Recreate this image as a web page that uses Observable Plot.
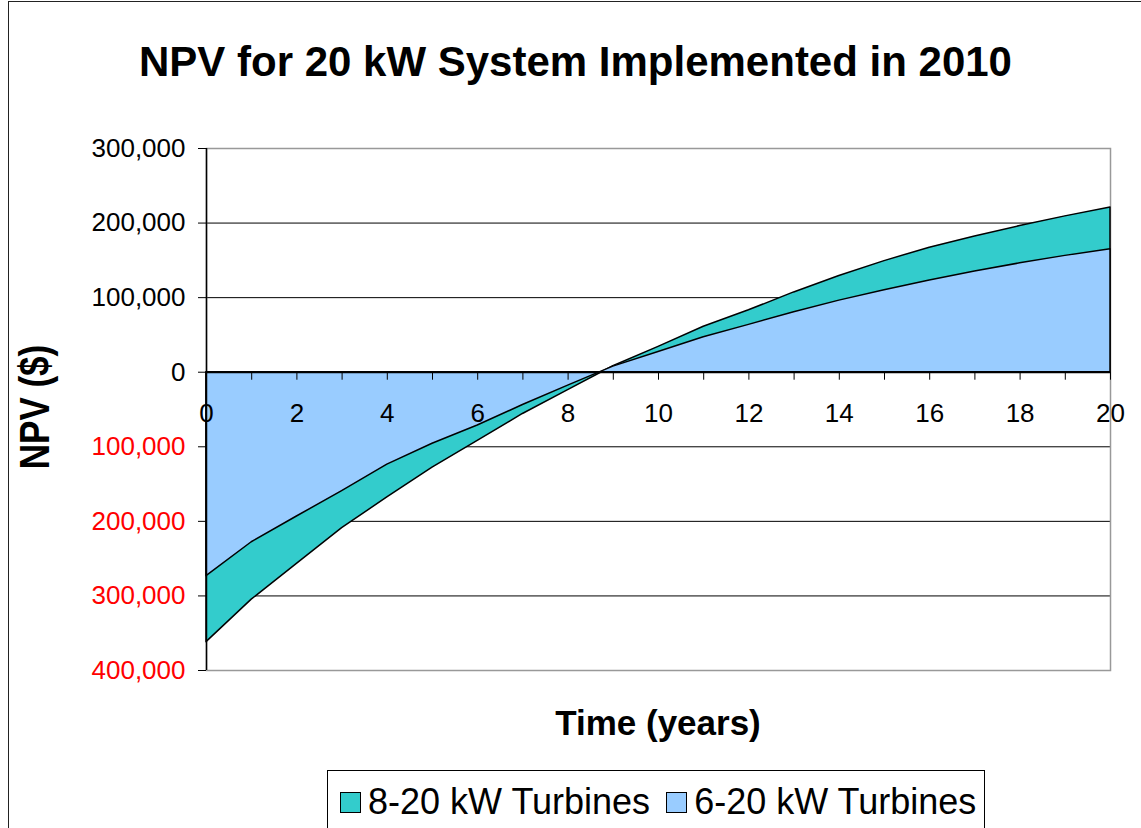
<!DOCTYPE html>
<html>
<head>
<meta charset="utf-8">
<script src="https://cdn.jsdelivr.net/npm/d3@7"></script>
<script src="https://cdn.jsdelivr.net/npm/@observablehq/plot@0.6"></script>
<style>
  html, body { margin: 0; padding: 0; background: #fff; }
  #wrap { position: relative; width: 1141px; height: 828px; overflow: hidden; background: #fff;
          font-family: "Liberation Sans", Arial, sans-serif; color: #000; }
  #chart { position: absolute; left: 0; top: 0; }
  #border { position: absolute; left: 8px; top: 1px; width: 1160px; height: 900px; border: 1px solid #222; box-sizing: border-box; }
  #title { position: absolute; left: 5px; width: 1141px; top: 41px; text-align: center; font-weight: bold; font-size: 42px; line-height: 1; white-space: nowrap; }
  #xtitle { position: absolute; left: 206px; width: 904px; top: 705px; text-align: center; font-weight: bold; font-size: 35px; line-height: 1; white-space: nowrap; }
  #ytitle { position: absolute; left: 34px; top: 407px; font-weight: bold; font-size: 35px; line-height: 1; white-space: nowrap;
            transform: translate(-50%, -50%) rotate(-90deg) scale(1, 1.2); }
  #legend { position: absolute; left: 327px; top: 770px; width: 658px; height: 80px; border: 1px solid #000; box-sizing: border-box;
            display: flex; align-items: flex-start; padding-top: 13px; padding-left: 12px; }
  .item { display: flex; align-items: center; font-size: 36px; line-height: 1; white-space: nowrap; }
  .sw { width: 21px; height: 21px; border: 1.5px solid #000; box-sizing: border-box; margin-right: 7px; }
</style>
</head>
<body>
<div id="wrap">
  <div id="chart"></div>
  <div id="border"></div>
  <div id="title"></div>
  <div id="ytitle"></div>
  <div id="xtitle"></div>
  <div id="legend"></div>
</div>
<script>
// ---- data ----
const titleText = "NPV for 20 kW System Implemented in 2010";
const xTitle = "Time (years)";
const yTitle = "NPV ($)";
const seriesNames = ["8-20 kW Turbines", "6-20 kW Turbines"];
const seriesColors = ["#33CCCC", "#99CCFF"];

const years = [0, 1, 2, 3, 4, 5, 6, 7, 8, 9, 10, 11, 12, 13, 14, 15, 16, 17, 18, 19, 20];
const npv8to20 = [-362000, -305000, -257000, -209000, -168000, -128000, -92000, -56000, -24000, 8000, 34000,
                  61000, 83000, 107000, 129000, 149000, 167000, 182000, 196000, 209000, 221000];
const npv6to20 = [-273500, -228000, -193500, -159500, -124000, -96000, -71500, -44000, -18000, 7500, 27000,
                  47000, 63500, 80500, 96000, 110000, 123000, 135000, 146000, 156000, 165000];

const xTickLabels = [0, 2, 4, 6, 8, 10, 12, 14, 16, 18, 20];
const yTicksPos = [300000, 200000, 100000, 0];
const yTicksNeg = [-100000, -200000, -300000, -400000];
const yGrid = [200000, 100000, -100000, -200000, -300000];

// ---- build tables ----
const data8 = years.map((t, i) => ({year: t, npv: npv8to20[i]}));
const data6 = years.map((t, i) => ({year: t, npv: npv6to20[i]}));
const fmt = d => d3.format(",")(Math.abs(d));

const chart = Plot.plot({
  width: 1141,
  height: 828,
  marginLeft: 206,
  marginRight: 31,
  marginTop: 148,
  marginBottom: 158,
  x: {domain: [0, 20], axis: null},
  y: {domain: [-400000, 300000], axis: null},
  style: {fontFamily: "'Liberation Sans', Arial, sans-serif", fontSize: "26px", background: "transparent", overflow: "visible"},
  marks: [
    Plot.ruleY(yGrid, {stroke: "#000", strokeWidth: 1}),
    Plot.frame({stroke: "#999", strokeWidth: 1.5}),
    Plot.areaY(data8, {x: "year", y1: 0, y2: "npv", fill: seriesColors[0], stroke: "#000", strokeWidth: 1.5}),
    Plot.areaY(data6, {x: "year", y1: 0, y2: "npv", fill: seriesColors[1], stroke: "#000", strokeWidth: 1.5}),
    Plot.ruleX([0], {stroke: "#000", strokeWidth: 1.5}),
    Plot.ruleY([0], {stroke: "#000", strokeWidth: 2}),
    // y tick marks
    Plot.ruleY([...yTicksPos, ...yTicksNeg], {x1: 0, x2: 0, insetLeft: -8, stroke: "#000", strokeWidth: 1}),
    // x tick marks on the zero line
    Plot.ruleX(years, {x: d => d, y1: 0, y2: 0, insetBottom: -8, stroke: "#000", strokeWidth: 1}),
    // y labels
    Plot.text(yTicksPos, {y: d => d, frameAnchor: "left", textAnchor: "end", dx: -21, text: fmt, fill: "#000", fontSize: 26}),
    Plot.text(yTicksNeg, {y: d => d, frameAnchor: "left", textAnchor: "end", dx: -21, text: fmt, fill: "#FF0000", fontSize: 26}),
    // x labels
    Plot.text(xTickLabels, {x: d => d, y: 0, dy: 41, text: d => String(d), fill: "#000", fontSize: 26})
  ]
});
document.getElementById("chart").appendChild(chart);

document.getElementById("title").textContent = titleText;
document.getElementById("xtitle").textContent = xTitle;
document.getElementById("ytitle").textContent = yTitle;

const legend = document.getElementById("legend");
seriesNames.forEach((name, i) => {
  const item = document.createElement("div");
  item.className = "item";
  if (i > 0) item.style.marginLeft = "16px";
  const sw = document.createElement("div");
  sw.className = "sw";
  sw.style.background = seriesColors[i];
  const label = document.createElement("span");
  label.textContent = name;
  item.appendChild(sw);
  item.appendChild(label);
  legend.appendChild(item);
});
</script>
</body>
</html>
